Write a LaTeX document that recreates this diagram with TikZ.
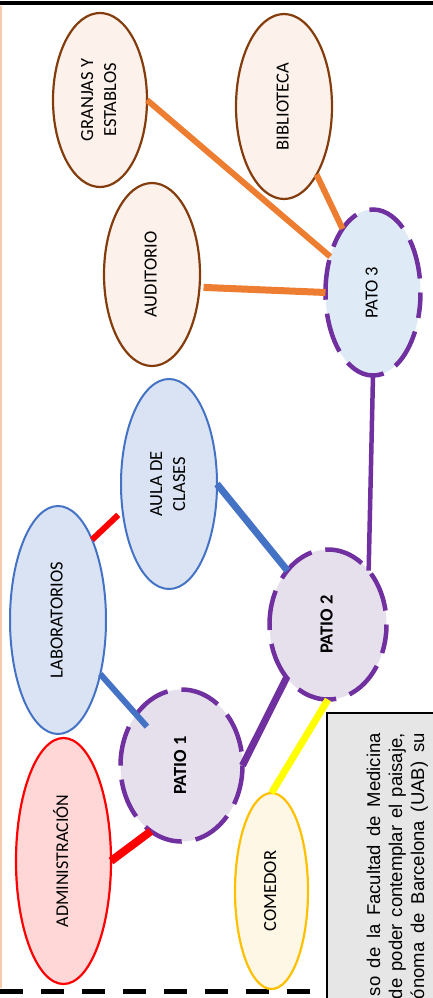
\documentclass[tikz,border=0pt]{standalone}
\usepackage{fontspec}
\setmainfont{Carlito}
\newfontfamily\arialfont{Liberation Sans}
\usetikzlibrary{shapes.geometric}

\definecolor{cafe}{HTML}{843C0C}
\definecolor{durazno}{HTML}{FCF1EB}
\definecolor{naranja}{HTML}{ED7D31}
\definecolor{azul}{HTML}{4472C4}
\definecolor{celeste}{HTML}{DAE3F3}
\definecolor{celestep}{HTML}{DEEBF7}
\definecolor{morado}{HTML}{7030A0}
\definecolor{lila}{HTML}{E6E0EC}
\definecolor{rosa}{HTML}{FFD7D7}
\definecolor{oro}{HTML}{FFC000}
\definecolor{crema}{HTML}{FEF7E6}
\definecolor{amarillo}{HTML}{FFFF00}
\definecolor{gris}{HTML}{E6E6E6}
\definecolor{piel}{HTML}{F8CBAD}

\newcommand{\vtexto}[1]{\rotatebox{90}{\begin{tabular}{@{}c@{}}#1\end{tabular}}}

\tikzset{
    zona/.style={draw, ellipse, inner sep=0pt, outer sep=0pt, font=\fontsize{18.5}{23}\selectfont},
    edificio/.style={zona, draw=cafe, fill=durazno, line width=2.2pt},
    patio/.style={zona, draw=morado, line width=4.5pt, dash pattern=on 40pt off 14pt, dash phase=40pt},
    linea/.style={rotate=90, anchor=base east, inner sep=0pt, font=\arialfont\fontsize{18.5}{23}\selectfont}
}

\begin{document}
\begin{tikzpicture}[x=1pt, y=-1pt]
    \useasboundingbox (0,0) rectangle (433,998);

    \begin{scope}
        \clip (0,0) rectangle (433,998);
        \draw[line width=3.5pt] (0,3) -- (433,3);
        \draw[piel, line width=1.8pt] (0.9,6) -- (0.9,988);
        \draw[line width=5pt, dash pattern=on 23pt off 18pt] (0,991) -- (310,991);
        \draw[fill=gris, line width=1.5pt] (327,713) rectangle (445,1010);
        \node[linea] (txta) at (380,733) {\makebox[263pt][s]{so de la Facultad de Medicina}};
        \node[linea] (txtb) at (402,733) {\makebox[266pt][s]{de poder contemplar el paisaje,}};
        \node[linea] (txtc) at (424,733) {\makebox[266pt][s]{ónoma de Barcelona (UAB) su}};
    \end{scope}

    \node[edificio, minimum width=94pt, minimum height=174pt] (granjas) at (100,100) {\vtexto{GRANJAS Y\\ESTABLOS}};
    \node[edificio, minimum width=96pt, minimum height=185pt] (biblioteca) at (284,106.5) {\vtexto{BIBLIOTECA}};
    \node[edificio, minimum width=96pt, minimum height=183pt] (auditorio) at (152,274.5) {\vtexto{AUDITORIO}};
    \node[patio, fill=celestep, minimum width=95pt, minimum height=166pt] (pato3) at (373,292.5) {\vtexto{PATO 3}};

    \node[zona, draw=azul, fill=celeste, line width=2pt,
        minimum width=96pt, minimum height=210pt] (aula) at (169,484) {\vtexto{AULA DE\\CLASES}};
    \node[zona, draw=azul, fill=celeste, line width=2pt,
        minimum width=96pt, minimum height=228pt] (lab) at (58,620) {\vtexto{LABORATORIOS}};
    \node[patio, fill=lila, minimum width=117pt, minimum height=150pt] (patio2) at (328,624.5) {\vtexto{\textbf{PATIO 2}}};
    \node[patio, fill=lila, minimum width=122pt, minimum height=152pt] (patio1) at (181.5,765.5) {\vtexto{\textbf{PATIO 1}}};
    \node[zona, draw=red, fill=rosa, line width=2.2pt,
        minimum width=95pt, minimum height=246pt] (admin) at (63.5,861) {\vtexto{\fontsize{18}{22}\selectfont ADMINISTRACIÓN}};
    \node[zona, draw=oro, fill=crema, line width=2.2pt,
        minimum width=73pt, minimum height=196pt] (comedor) at (271.5,891) {\vtexto{COMEDOR}};

    \draw[naranja, line width=6pt] (granjas.east) -- (pato3.140);
    \draw[naranja, line width=6pt] (biblioteca) -- (pato3);
    \draw[naranja, line width=7pt, shorten <=4pt] (auditorio.-15) -- (pato3.west);
    \draw[azul, line width=7pt] (aula.east) -- (patio2.127);
    \draw[red, line width=6pt, shorten >=6pt] (lab.67) -- (aula.210);
    \draw[azul, line width=6pt, shorten >=52pt] (lab.-52) -- (patio1.center);
    \draw[red, line width=8pt] (admin.east) -- (patio1.245);
    \draw[morado, line width=7pt] (patio1.east) -- (patio2.232);
    \draw[morado, line width=4.5pt] (patio2.53) -- (pato3.south);
    \draw[amarillo, line width=7pt] (comedor.north) -- (patio2.south);
\end{tikzpicture}
\end{document}
